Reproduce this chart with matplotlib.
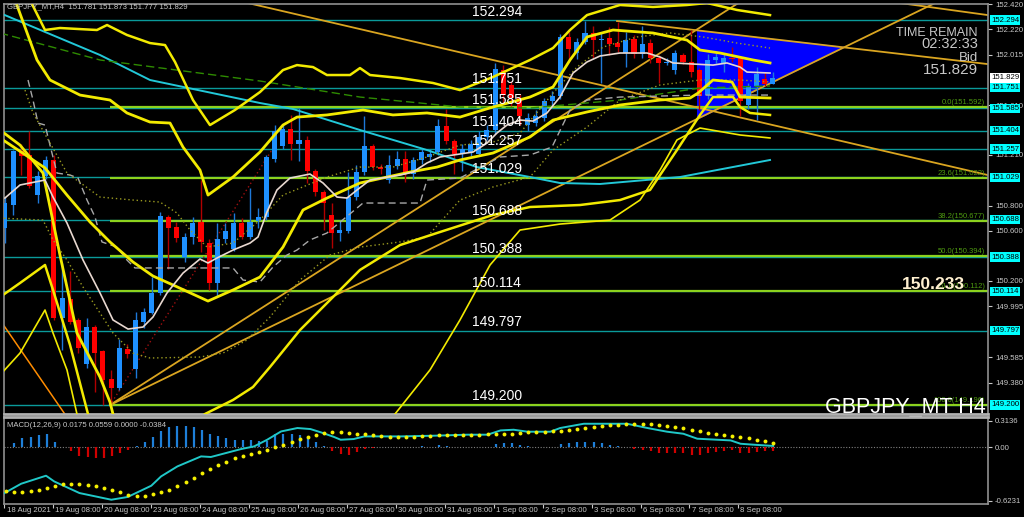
import numpy as np
import matplotlib
matplotlib.use('Agg')
import matplotlib.pyplot as plt
from matplotlib.patches import Polygon

# ---- candles (H4), index 0 = 18 Aug 2021 08:00 ----
opens = [150.62, 150.81, 151.24, 151.21, 150.89, 151.04, 151.17, 149.90, 150.05, 149.88,
         149.53, 149.83, 149.63, 149.41, 149.34, 149.65, 149.49, 149.87, 149.94, 150.10,
         150.71, 150.63, 150.39, 150.55, 150.67, 150.50, 150.18, 150.53, 150.45, 150.66,
         150.55, 150.68, 150.71, 151.18, 151.28, 151.42, 151.30, 151.33, 151.08, 150.91,
         150.73, 150.58, 150.60, 150.87, 151.07, 151.28, 151.11, 151.01, 151.12, 151.18,
         151.06, 151.17, 151.19, 151.23, 151.44, 151.32, 151.22, 151.23, 151.22, 151.35,
         151.41, 151.89, 151.77, 151.67, 151.45, 151.47, 151.51, 151.64, 151.68, 152.16,
         152.03, 152.12, 152.19, 152.13, 152.15, 152.11, 152.03, 152.14, 152.02, 152.11,
         151.99, 151.95, 151.89, 152.01, 151.96, 151.89, 151.69, 151.97, 151.95, 151.99,
         151.99, 151.61, 151.76, 151.82, 151.781]
highs = [150.87, 151.25, 151.30, 151.40, 151.08, 151.20, 151.21, 150.34, 150.28, 149.90,
         149.90, 149.84, 149.64, 149.48, 149.73, 149.69, 149.95, 149.98, 150.23, 150.75,
         150.73, 150.67, 150.58, 150.71, 151.01, 150.53, 150.66, 150.66, 150.74, 150.70,
         150.94, 150.78, 151.21, 151.45, 151.46, 151.53, 151.59, 151.36, 151.10, 150.93,
         150.82, 150.68, 151.07, 151.13, 151.52, 151.30, 151.14, 151.21, 151.24, 151.24,
         151.19, 151.26, 151.26, 151.50, 151.58, 151.34, 151.30, 151.33, 151.40, 151.45,
         151.95, 151.93, 151.80, 151.70, 151.55, 151.57, 151.67, 151.72, 152.18, 152.20,
         152.15, 152.29, 152.25, 152.20, 152.24, 152.28, 152.20, 152.17, 152.25, 152.14,
         152.01, 151.99, 152.05, 152.03, 152.21, 151.91, 152.02, 152.04, 152.02, 152.08,
         152.00, 151.79, 151.92, 151.88, 151.873]
lows = [150.50, 150.73, 151.05, 150.94, 150.82, 151.02, 149.88, 149.64, 149.85, 149.62,
        149.50, 149.30, 149.20, 149.19, 149.32, 149.58, 149.42, 149.82, 149.93, 150.08,
        150.29, 150.51, 150.35, 150.49, 150.43, 150.12, 150.07, 150.50, 150.44, 150.53,
        150.53, 150.62, 150.69, 151.15, 151.26, 151.17, 151.16, 150.98, 150.88, 150.61,
        150.46, 150.52, 150.58, 150.85, 151.05, 151.09, 151.06, 150.98, 151.10, 150.99,
        151.02, 151.14, 151.15, 151.21, 151.30, 151.06, 151.08, 151.20, 151.20, 151.33,
        151.38, 151.62, 151.60, 151.45, 151.40, 151.44, 151.48, 151.60, 151.66, 151.98,
        151.98, 152.10, 151.99, 151.79, 152.01, 152.04, 151.92, 151.99, 151.99, 151.95,
        151.79, 151.93, 151.86, 151.94, 151.84, 151.57, 151.66, 151.95, 151.88, 151.96,
        151.52, 151.58, 151.49, 151.76, 151.777]
closes = [150.82, 151.24, 151.20, 150.96, 151.04, 151.17, 149.90, 150.06, 149.87, 149.66,
          149.83, 149.62, 149.40, 149.34, 149.66, 149.61, 149.88, 149.95, 150.10, 150.72,
          150.62, 150.54, 150.55, 150.66, 150.51, 150.18, 150.53, 150.60, 150.66, 150.55,
          150.67, 150.71, 151.19, 151.40, 151.42, 151.30, 151.33, 151.08, 150.91, 150.82,
          150.58, 150.61, 150.87, 151.07, 151.28, 151.11, 151.10, 151.13, 151.18, 151.06,
          151.17, 151.23, 151.22, 151.44, 151.32, 151.22, 151.26, 151.30, 151.35, 151.41,
          151.90, 151.69, 151.67, 151.52, 151.51, 151.52, 151.64, 151.68, 152.16, 152.06,
          152.12, 152.19, 152.13, 152.14, 152.10, 152.08, 152.13, 152.02, 152.10, 151.99,
          151.95, 151.96, 152.03, 151.96, 151.88, 151.68, 151.97, 152.00, 151.99, 151.98,
          151.64, 151.76, 151.86, 151.78, 151.829]

# ---- horizontal levels ----
levels = [152.294, 151.751, 151.585, 151.404, 151.257, 151.029, 150.688, 150.388, 150.114, 149.797, 149.200]
fib_names = ['0.0', '23.6', '38.2', '50.0', '61.8', '100.0']
fib_values = [151.592, 151.022, 150.677, 150.394, 150.112, 149.196]
fib_start = 12.9
# scale labels that are not hidden behind the level boxes
price_ticks = [152.420, 152.220, 152.015, 151.610, 151.210, 150.800,
               150.600, 150.200, 149.995, 149.585, 149.380]
bid = 151.829
marked_price = 150.233

date_idx = [0, 6, 12, 18, 24, 30, 36, 42, 48, 54, 60, 66, 72, 78, 84, 90]
date_labels = ['18 Aug 2021', '19 Aug 08:00', '20 Aug 08:00', '23 Aug 08:00', '24 Aug 08:00',
               '25 Aug 08:00', '26 Aug 08:00', '27 Aug 08:00', '30 Aug 08:00', '31 Aug 08:00',
               '1 Sep 08:00', '2 Sep 08:00', '3 Sep 08:00', '6 Sep 08:00', '7 Sep 08:00', '8 Sep 08:00']

# ---- indicator lines (candle index, price) ----
ma_x = [0.0, 1.85, 4.91, 5.89, 7.6, 9.56, 11.64, 13.23, 15.07, 16.9, 18.13, 19.84, 21.8, 23.88, 24.86,
        25.96, 27.92, 30.0, 30.98, 32.08, 33.3, 34.9, 37.34, 38.94, 40.65, 41.87, 43.1, 44.69, 48.36,
        49.95, 51.66, 53.26, 57.3, 59.01, 60.23, 61.46, 63.05, 64.64, 66.35, 67.94, 69.54, 71.25,
        72.84, 75.29, 78.6, 80.18, 81.78, 86.67, 88.38, 89.98, 90.83, 93.65]
ma_y = [150.863, 150.968, 151.008, 150.871, 150.662, 150.365, 150.100, 149.883, 149.810, 149.826,
        149.907, 150.100, 150.260, 150.373, 150.341, 150.381, 150.445, 150.501, 150.550, 150.751,
        150.928, 151.024, 151.056, 150.984, 150.871, 150.863, 150.928, 151.008, 151.048, 151.072,
        151.145, 151.193, 151.233, 151.305, 151.386, 151.450, 151.490, 151.482, 151.547, 151.675,
        151.868, 151.957, 152.005, 152.029, 152.029, 151.997, 151.949, 151.932, 151.949, 151.916,
        151.876, 151.868]

up_outer_x = [3.07, 4.91, 6.74, 11.27, 12.5, 14.94, 17.76, 19.6, 20.82, 23.02, 25.1, 28.16, 31.22,
              34.04, 35.75, 37.71, 39.42, 42.24, 43.46, 44.69, 48.36, 52.4, 55.7, 59.74, 64.27,
              67.09, 69.17, 71.25, 75.29, 79.33, 83.49, 85.94, 89.61, 93.65]
up_outer_y = [152.455, 152.214, 152.230, 152.214, 152.254, 152.174, 152.109, 152.093, 151.957,
              151.651, 151.450, 151.571, 151.715, 151.892, 151.932, 151.916, 151.852, 151.852,
              151.908, 151.852, 151.828, 151.788, 151.731, 151.836, 151.973, 152.069, 152.214,
              152.334, 152.415, 152.399, 152.415, 152.431, 152.375, 152.334]

up_inner_x = [1.24, 3.93, 5.52, 9.19, 12.86, 14.94, 17.76, 20.21, 21.8, 23.88, 24.86, 27.92, 31.22,
              34.04, 35.75, 39.42, 43.83, 47.5, 51.66, 55.7, 59.74, 64.27, 67.09, 69.17, 71.25,
              74.43, 79.33, 83.49, 85.08, 87.53, 91.57, 93.65]
up_inner_y = [152.455, 151.973, 151.812, 151.691, 151.651, 151.547, 151.474, 151.466, 151.273,
              151.088, 150.887, 151.032, 151.233, 151.450, 151.514, 151.531, 151.571, 151.531,
              151.547, 151.514, 151.595, 151.675, 151.756, 151.973, 152.158, 152.214, 152.190,
              152.133, 152.053, 152.029, 151.973, 151.949]

low_inner_x = [-0.6, 4.91, 7.6, 10.42, 12.86, 15.68, 18.13, 20.58, 24.86, 27.92, 31.22, 34.04, 36.49,
               39.42, 43.46, 46.77, 49.58, 52.89, 55.7, 59.74, 64.27, 67.09, 71.25, 75.29, 80.18,
               83.86, 84.84, 86.67, 89.0, 89.98, 93.65]
low_inner_y = [151.346, 151.105, 150.887, 150.670, 150.510, 150.349, 150.236, 150.164, 150.035,
               150.124, 150.228, 150.469, 150.767, 150.863, 150.984, 151.032, 151.072, 151.112,
               151.169, 151.225, 151.354, 151.490, 151.555, 151.611, 151.651, 151.667, 151.707,
               151.812, 151.796, 151.675, 151.667]

drop_band_x = [-0.6, 1.85, 4.66, 6.74, 8.82, 11.64, 12.86, 13.23]
drop_band_y = [151.410, 151.289, 151.064, 150.405, 149.778, 149.424, 149.223, 149.127]

low_outer_a_x = [-0.6, 1.85, 4.91, 5.89, 7.97, 10.17]
low_outer_a_y = [150.067, 150.180, 150.325, 150.124, 149.682, 149.127]
low_thin_a_x = [-0.6, 1.85, 4.91, 5.89, 7.6, 8.82]
low_thin_a_y = [149.440, 149.617, 149.963, 149.778, 149.481, 149.127]

low_outer_b_x = [24.49, 27.92, 30.37, 32.45, 36.12, 39.79, 43.46, 48.36, 53.26, 59.74, 64.27, 70.39,
                 75.29, 78.96, 82.26, 85.08, 86.67, 89.12, 89.98, 91.2, 93.65]
low_outer_b_y = [149.127, 149.240, 149.344, 149.505, 149.802, 150.043, 150.285, 150.485, 150.590,
                 150.727, 150.791, 150.807, 150.847, 150.928, 151.249, 151.531, 151.675, 151.675,
                 151.595, 151.547, 151.531]
low_thin_b_x = [47.75, 52.03, 55.7, 59.38, 63.05, 67.94, 74.06, 77.74, 80.18, 82.26, 85.08, 89.98, 93.65]
low_thin_b_y = [149.127, 149.481, 149.883, 150.325, 150.606, 150.654, 150.686, 150.847, 151.088,
                151.330, 151.426, 151.370, 151.346]

kijun_x = [2.83, 3.44, 4.05, 4.91, 5.76, 6.38, 7.97, 8.95, 10.05, 11.03, 11.88, 13.72, 14.94, 15.92,
           27.92, 29.14, 31.22, 32.82, 34.53, 35.75, 37.34, 39.42, 43.83, 50.81, 51.66, 55.7, 60.6,
           64.27, 66.96, 69.17, 71.25, 75.29, 85.08, 93.65]
kijun_y = [151.812, 151.651, 151.466, 151.450, 151.225, 151.064, 151.048, 151.024, 150.847, 150.711,
           150.510, 150.469, 150.365, 150.301, 150.301, 150.204, 150.188, 150.309, 150.405, 150.445,
           150.526, 150.582, 150.823, 150.823, 151.008, 151.024, 151.193, 151.209, 151.273, 151.571,
           151.651, 151.675, 151.691, 151.691]

slow_ma_x = [-0.6, 11.64, 31.22, 43.46, 55.7, 64.27, 75.29, 85.08, 93.65]
slow_ma_y = [152.190, 151.973, 151.804, 151.675, 151.595, 151.587, 151.651, 151.748, 151.764]

long_ma_x = [-0.6, 11.64, 17.76, 31.22, 35.26, 43.46, 51.66, 57.78, 64.27, 67.94, 72.84, 82.63, 93.65]
long_ma_y = [152.350, 152.013, 151.812, 151.627, 151.579, 151.410, 151.249, 151.112, 151.032,
             150.984, 150.976, 151.032, 151.169]

dot_a_x = [2.46, 3.44, 7.6, 11.64, 15.68, 18.98, 21.06, 22.66, 24.74, 27.92, 31.22, 34.04, 39.42,
           43.46, 47.5, 51.66, 55.7, 59.74, 63.05, 67.09, 70.02, 73.21, 77.37, 81.41, 85.45, 89.61, 93.65]
dot_a_y = [151.731, 151.547, 151.064, 150.871, 150.847, 150.831, 150.743, 150.606, 150.469, 150.501,
           150.686, 150.887, 151.032, 151.112, 151.112, 151.193, 151.289, 151.313, 151.386, 151.707,
           151.916, 152.077, 152.158, 152.190, 152.158, 152.109, 152.069]
dot_b_x = [-0.6, 4.66, 5.89, 7.6, 9.56, 11.64, 13.23, 15.68, 17.76, 23.88, 26.7, 29.63, 32.45, 36.12,
           39.79, 43.46, 48.36, 51.66, 55.7, 59.74, 64.27, 67.09, 71.25, 75.29, 80.18, 85.08, 89.98, 93.65]
dot_b_y = [150.702, 150.686, 150.526, 150.365, 150.148, 149.939, 149.778, 149.617, 149.577, 149.585,
           149.617, 149.722, 149.907, 150.204, 150.405, 150.469, 150.510, 150.550, 150.847, 150.952,
           151.032, 151.249, 151.434, 151.651, 151.772, 151.812, 151.812, 151.796]

# straight trend lines: start index, start price, end index, end price
trend_x0 = [12.86, 12.86, 74.92, 28.16, 106.9]
trend_y0 = [149.199, 149.199, 152.286, 152.455, 152.455]
trend_x1 = [114.6, 90.34, 120.3, 120.3, 120.3]
trend_y1 = [152.455, 152.455, 151.940, 151.048, 152.334]

triangle_x = [84.71, 84.71, 102.95]
triangle_y = [152.214, 151.490, 152.077]

# ---- MACD(12,26,9) ----
macd_hist = [0.0, 0.051, 0.109, 0.121, 0.140, 0.156, 0.062, 0.0, -0.047, -0.098,
             -0.113, -0.125, -0.125, -0.105, -0.066, -0.027, 0.020, 0.062, 0.121, 0.187,
             0.234, 0.246, 0.246, 0.234, 0.207, 0.156, 0.129, 0.109, 0.090, 0.090,
             0.082, 0.078, 0.070, 0.160, 0.160, 0.156, 0.140, 0.109, 0.062, 0.020,
             -0.047, -0.078, -0.086, -0.059, -0.020, -0.010, 0.005, 0.0, 0.0, 0.010,
             0.010, 0.020, 0.010, 0.030, 0.020, 0.010, 0.005, 0.0, 0.0, 0.010,
             0.043, 0.051, 0.051, 0.031, 0.012, 0.0, 0.0, 0.005, 0.039, 0.051,
             0.062, 0.066, 0.062, 0.051, 0.031, 0.012, 0.0, -0.020, -0.035, -0.047,
             -0.066, -0.066, -0.066, -0.066, -0.086, -0.086, -0.066, -0.055, -0.047, -0.035,
             -0.066, -0.066, -0.055, -0.047, -0.038]
macd_signal = [-0.515, -0.526, -0.518, -0.511, -0.495, -0.476, -0.452, -0.433, -0.425, -0.425,
               -0.437, -0.456, -0.479, -0.499, -0.526, -0.554, -0.569, -0.565, -0.550, -0.526,
               -0.495, -0.456, -0.409, -0.359, -0.300, -0.253, -0.210, -0.167, -0.128, -0.097,
               -0.082, -0.054, -0.031, 0.000, 0.028, 0.067, 0.098, 0.121, 0.145, 0.168,
               0.176, 0.180, 0.172, 0.160, 0.152, 0.145, 0.129, 0.121, 0.121, 0.121,
               0.121, 0.129, 0.137, 0.141, 0.141, 0.145, 0.145, 0.148, 0.148, 0.152,
               0.152, 0.152, 0.160, 0.168, 0.176, 0.176, 0.184, 0.188, 0.195, 0.207,
               0.215, 0.223, 0.234, 0.246, 0.258, 0.266, 0.269, 0.277, 0.277, 0.273,
               0.262, 0.254, 0.242, 0.226, 0.207, 0.188, 0.168, 0.156, 0.141, 0.133,
               0.117, 0.106, 0.090, 0.078, 0.056]
macd_x = [-0.2, 1.85, 4.9, 5.9, 9.0, 12.9, 14.9, 17.8, 19.0, 21.0, 23.9, 25.1, 28.8, 30.4, 32.0,
          33.7, 35.7, 37.3, 38.6, 40.2, 41.0, 42.6, 43.9, 48.4, 52.4, 56.5, 59.0, 60.6, 62.2, 63.9,
          66.7, 67.9, 70.8, 76.1, 78.6, 81.0, 83.0, 84.7, 88.8, 90.0, 91.6, 94.0]
macd_main = [-0.534, -0.425, -0.331, -0.398, -0.534, -0.612, -0.580, -0.448, -0.339, -0.222,
             -0.105, -0.112, -0.019, 0.012, 0.090, 0.187, 0.227, 0.215, 0.176, 0.122,
             0.090, 0.098, 0.129, 0.129, 0.137, 0.149, 0.149, 0.199, 0.207, 0.184,
             0.184, 0.227, 0.277, 0.277, 0.227, 0.184, 0.160, 0.102, 0.082, 0.043,
             0.032, 0.0175]
macd_ticks = [0.3136, 0.0, -0.6231]
macd_tick_labels = ['0.3136', '0.00', '-0.6231']

GREY = '#C8C8C8'
FONT = ['Liberation Sans', 'DejaVu Sans']

fig = plt.figure(figsize=(10.24, 5.17), dpi=100, facecolor='black')
ax = fig.add_axes([4 / 1024, 103 / 517, 984 / 1024, 410 / 517], facecolor='black')
ax2 = fig.add_axes([4 / 1024, 13 / 517, 984 / 1024, 87 / 517], facecolor='black')

xmin, xmax = -0.11, 120.33
ax.set_xlim(xmin, xmax)
ax.set_ylim(149.127, 152.423)
ax2.set_xlim(xmin, xmax)
ax2.set_ylim(-0.662, 0.356)

for a in (ax, ax2):
    for s in a.spines.values():
        s.set_color('#909090')
        s.set_linewidth(1.2)
ax.spines['bottom'].set_color('#B0B0B0')
ax.spines['bottom'].set_linewidth(2)
ax2.spines['top'].set_color('#B0B0B0')
ax2.spines['top'].set_linewidth(2)

# blue triangle
ax.add_patch(Polygon(list(zip(triangle_x, triangle_y)), closed=True, facecolor='#0000FF',
                     edgecolor='none', zorder=1))

# levels and fibonacci
for v in levels:
    ax.axhline(v, color='#0A9A9A', lw=1, zorder=2)
    ax.text(57.2, v + 0.012, f'{v:.3f}', color='white', fontsize=10, family=FONT,
            ha='left', va='bottom', zorder=6)
for name, v in zip(fib_names, fib_values):
    ax.hlines(v, fib_start, xmax, color='#8CD21E', lw=1.6, zorder=2)
    ax.text(0.997, v + 0.008, f'{name}({v:.3f})', transform=ax.get_yaxis_transform(),
            color='#4E9A10', fontsize=5.5, family=FONT, ha='right', va='bottom', zorder=6)

# trend lines
for x0, y0, x1, y1 in zip(trend_x0, trend_y0, trend_x1, trend_y1):
    ax.plot([x0, x1], [y0, y1], color='#DAA520', lw=1.3, zorder=2.5)
ax.plot([-0.6, 7.33], [149.883, 149.127], color='#FF8C00', lw=1.1, zorder=2.5)
ax.plot([13.11, 33.06], [149.223, 151.289], color='#A01010', lw=1, ls=(0, (1, 2)), zorder=2.5)

# candles
n = len(opens)
xs = np.arange(n)
o = np.array(opens); c = np.array(closes)
up = c >= o
body_col = np.where(up, '#1E90FF', '#FF0000')
wick_col = np.where(up, '#1E78D8', '#B00000')
ax.vlines(xs, lows, highs, colors=wick_col, lw=1, zorder=3)
ax.bar(xs, np.maximum(np.abs(c - o), 0.006), bottom=np.minimum(o, c), width=0.62,
       color=body_col, linewidth=0, zorder=3.1)

# indicator lines
ax.plot(long_ma_x, long_ma_y, color='#22C8D8', lw=1.4, zorder=4)
ax.plot(slow_ma_x, slow_ma_y, color='#2E8B00', lw=1, ls=(0, (6, 3)), zorder=4)
ax.plot(kijun_x, kijun_y, color='#A8A8A8', lw=1, ls=(0, (5, 3)), zorder=4)
ax.plot(dot_a_x, dot_a_y, color='#9A9A20', lw=1, ls=(0, (1, 2)), zorder=4)
ax.plot(dot_b_x, dot_b_y, color='#9A9A20', lw=1, ls=(0, (1, 2)), zorder=4)
ax.plot(ma_x, ma_y, color='#E8D8D0', lw=1.2, zorder=4.2)
for bx, by, lw in [(up_outer_x, up_outer_y, 1.8), (up_inner_x, up_inner_y, 2.0),
                   (low_inner_x, low_inner_y, 2.0), (drop_band_x, drop_band_y, 2.0),
                   (low_outer_a_x, low_outer_a_y, 1.8), (low_thin_a_x, low_thin_a_y, 1.2),
                   (low_outer_b_x, low_outer_b_y, 1.8), (low_thin_b_x, low_thin_b_y, 1.2)]:
    ax.plot(bx, by, color='#F2EA00', lw=lw, zorder=4.1)

# right price scale
ax.yaxis.tick_right()
ax.set_yticks(price_ticks)
ax.set_yticklabels([f'{t:.3f}' for t in price_ticks])
ax.tick_params(axis='y', colors=GREY, labelsize=5.6, length=3, pad=2, width=0.8)
ax.set_xticks([])
for lab in ax.get_yticklabels():
    lab.set_family(FONT)
for v in levels:
    ax.text(1.003, v, f'{v:.3f}', transform=ax.get_yaxis_transform(), color='black', fontsize=5.6,
            family=FONT, ha='left', va='center', clip_on=False, zorder=7,
            bbox=dict(boxstyle='square,pad=0.15', fc='#00FFFF', ec='none'))
ax.text(1.003, bid, f'{bid:.3f}', transform=ax.get_yaxis_transform(), color='black', fontsize=5.6,
        family=FONT, ha='left', va='center', clip_on=False, zorder=7,
        bbox=dict(boxstyle='square,pad=0.15', fc='white', ec='none'))

# overlay texts
ax.text(0.9898, 0.929, 'TIME REMAIN', transform=ax.transAxes, color=GREY, fontsize=9, family=FONT,
        ha='right', va='center', zorder=7)
ax.text(0.9898, 0.902, '02:32:33', transform=ax.transAxes, color=GREY, fontsize=10.5, family=FONT,
        ha='right', va='center', zorder=7)
ax.text(0.9898, 0.868, 'Bid', transform=ax.transAxes, color=GREY, fontsize=9.5, family=FONT,
        ha='right', va='center', zorder=7)
ax.text(0.9898, 0.839, f'{bid:.3f}', transform=ax.transAxes, color=GREY, fontsize=11, family=FONT,
        ha='right', va='center', zorder=7)
ax.text(109.8, marked_price - 0.065, f'{marked_price:.3f}', color='#FFF0D0', fontsize=12.5,
        fontweight='bold', family=FONT, ha='left', va='center', zorder=7)
ax.text(0.998, 0.004, 'GBPJPY_MT H4', transform=ax.transAxes, color='white', fontsize=15.5,
        family=FONT, ha='right', va='baseline', zorder=7)
fig.text(7 / 1024, 1 - 7 / 517, 'GBPJPY_MT,H4  151.781 151.873 151.777 151.829', color=GREY,
         fontsize=5.6, family=FONT, ha='left', va='center')

# MACD panel
hist = np.array(macd_hist)
ax2.vlines(xs, 0, hist, colors=np.where(hist >= 0, '#1E7FD8', '#D00000'), lw=1.6, zorder=3)
ax2.axhline(0, color='#808080', lw=0.8, ls=(0, (1, 1.5)), zorder=2)
ax2.plot(macd_x, macd_main, color='#20C8C8', lw=1.4, zorder=4)
ax2.plot(xs, macd_signal, 'o', ms=2.8, color='#F5F000', markeredgewidth=0, zorder=5)
ax2.text(0.003, 0.9, 'MACD(12,26,9) 0.0175 0.0559 0.0000 -0.0384', transform=ax2.transAxes,
         color=GREY, fontsize=5.6, family=FONT, ha='left', va='center')
ax2.yaxis.tick_right()
ax2.set_yticks(macd_ticks)
ax2.set_yticklabels(macd_tick_labels)
ax2.tick_params(axis='y', colors=GREY, labelsize=5.6, length=3, pad=2, width=0.8)
for lab in ax2.get_yticklabels():
    lab.set_family(FONT)

tick_pos = [t - 0.25 for t in date_idx]
ax2.set_xticks(tick_pos)
ax2.set_xticklabels([])
ax2.tick_params(axis='x', colors=GREY, length=3, width=0.8)
for t, lab in zip(tick_pos, date_labels):
    ax2.text(max(t, xmin) + 0.25, -0.075, lab, transform=ax2.get_xaxis_transform(), color=GREY,
             fontsize=5.6, family=FONT, ha='left', va='center', clip_on=False)

fig.savefig('out.png', dpi=100, facecolor='black')
